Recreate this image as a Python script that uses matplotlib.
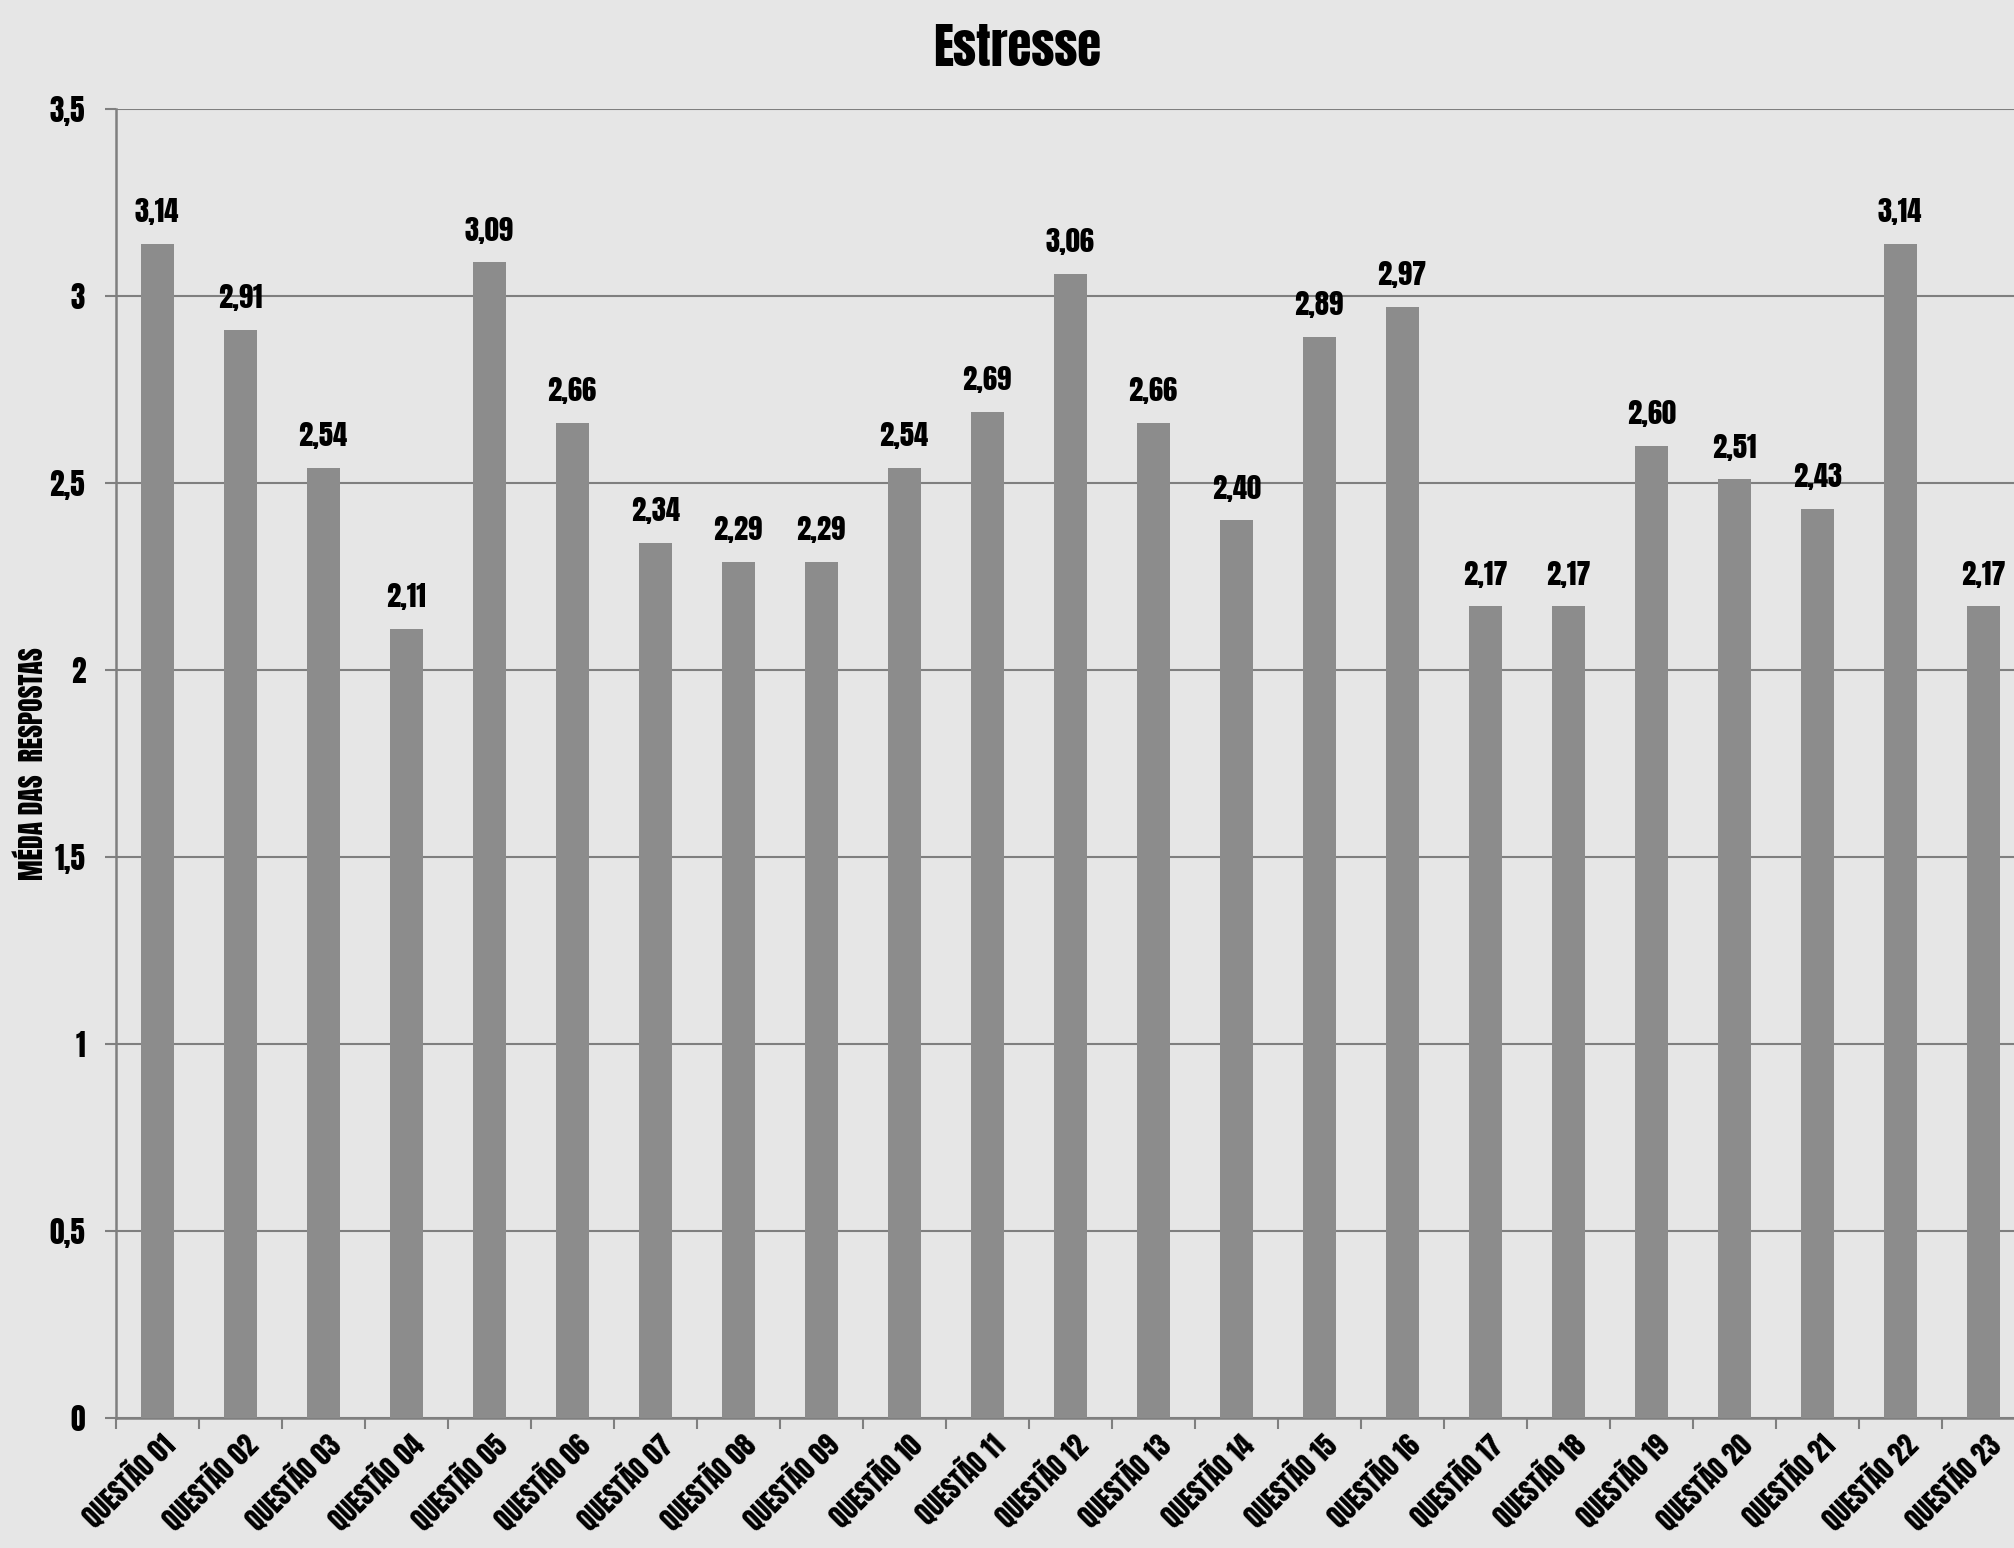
import numpy as np
import matplotlib.pyplot as plt
import matplotlib.transforms as mtransforms

questions = [f'QUESTÃO {i:02d}' for i in range(1, 24)]
means = [3.14, 2.91, 2.54, 2.11, 3.09, 2.66, 2.34, 2.29, 2.29, 2.54, 2.69, 3.06,
         2.66, 2.40, 2.89, 2.97, 2.17, 2.17, 2.60, 2.51, 2.43, 3.14, 2.17]
yticks = [0, 0.5, 1, 1.5, 2, 2.5, 3, 3.5]

plt.rcParams['font.family'] = ['Anton', 'Oswald', 'DejaVu Sans']

bg = '#e6e6e6'
fig = plt.figure(figsize=(20.15, 15.48), dpi=100, facecolor=bg)
ax = fig.add_axes([0.0574, 0.084, 0.9474, 0.8456], facecolor=bg)

x = np.arange(len(means))
ax.bar(x, means, width=0.4, color='#8c8c8c', zorder=3)

for xi, v in zip(x, means):
    ax.text(xi, v + 0.05, f'{v:.2f}'.replace('.', ','), ha='center', va='bottom',
            fontsize=20.5, color='black')

ax.set_xlim(-0.5, len(means) - 0.5)
ax.set_ylim(0, 3.5)
ax.set_yticks(yticks)
ax.set_yticklabels([f'{t:g}'.replace('.', ',') for t in yticks], fontsize=21)
ax.yaxis.grid(True, color='#7f7f7f', lw=1.5, zorder=0)

ax.set_xticks(x)
ax.set_xticklabels(questions, rotation=45, ha='right', va='top', rotation_mode='anchor',
                   fontsize=19.5)
shift = mtransforms.ScaledTranslation(22 / 100, 0, fig.dpi_scale_trans)
for lab in ax.get_xticklabels():
    lab.set_transform(lab.get_transform() + shift)
ax.set_xticks(np.arange(-0.5, len(means), 1), minor=True)
ax.tick_params(axis='x', which='major', length=0, pad=7)
ax.tick_params(axis='x', which='minor', length=8, color='#7f7f7f', width=1.5)
ax.tick_params(axis='y', length=8, color='#7f7f7f', width=1.5, pad=14)

for s in ['top', 'right']:
    ax.spines[s].set_visible(False)
for s in ['left', 'bottom']:
    ax.spines[s].set_color('#7f7f7f')
    ax.spines[s].set_linewidth(1.8)

ax.set_ylabel('MÉDA DAS  RESPOSTAS', fontsize=20)
ax.yaxis.set_label_coords(-0.0365, 0.5)
fig.text(0.505, 0.969, 'Estresse', ha='center', va='center', fontsize=35)

fig.savefig('out.png', dpi=100, facecolor=bg)
